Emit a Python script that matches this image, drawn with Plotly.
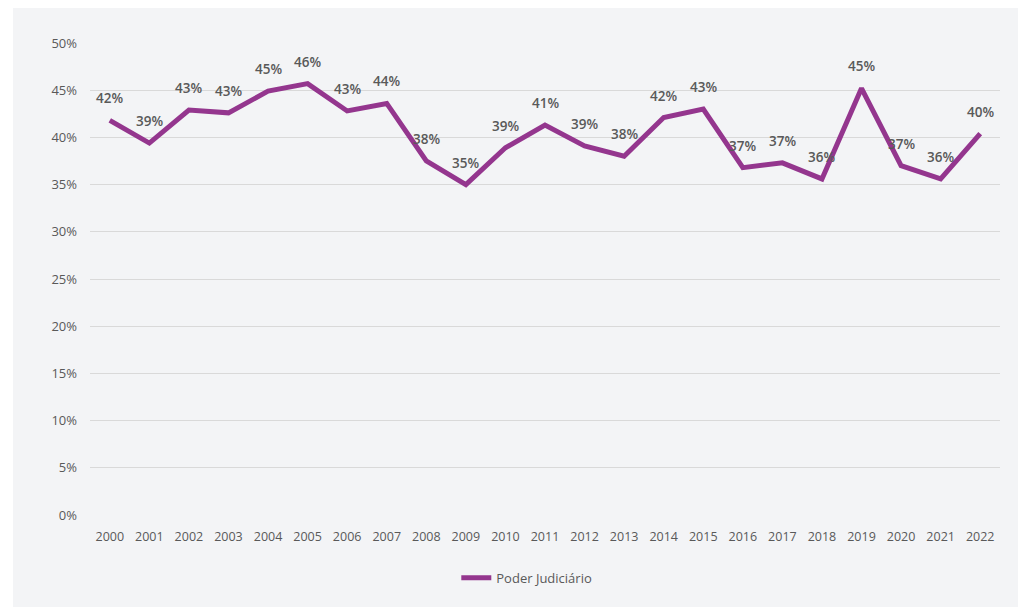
import plotly.graph_objects as go

years = [str(y) for y in range(2000, 2023)]
values = [0.418, 0.394, 0.429, 0.426, 0.449, 0.457, 0.428, 0.436, 0.375, 0.350,
          0.389, 0.413, 0.391, 0.380, 0.421, 0.430, 0.368, 0.373, 0.356, 0.452,
          0.370, 0.356, 0.404]
labels = [f"{round(v*100)}%" for v in values]
series_name = "Poder Judiciário"
y_ticks = [0, 0.05, 0.10, 0.15, 0.20, 0.25, 0.30, 0.35, 0.40, 0.45, 0.50]
y_ticktext = [f"{int(round(t*100))}%" for t in y_ticks]

fig = go.Figure()
fig.add_trace(go.Scatter(
    x=years, y=values, mode="lines", name=series_name,
    line=dict(color="#94368E", width=5),
    cliponaxis=False,
))
# category axis: annotation x given as the category index
for i, (yv, lab) in enumerate(zip(values, labels)):
    fig.add_annotation(x=i, y=yv, xref="x", yref="y", text=lab, showarrow=False, yshift=22,
                       font=dict(family="Open Sans", size=13.5, color="#595959", weight=600))

fig.update_layout(
    width=1018, height=607,
    margin=dict(l=90, r=18, t=43, b=92),
    paper_bgcolor="#F3F4F6", plot_bgcolor="#F3F4F6",
    font=dict(family="Open Sans", size=12, color="#595959"),
    showlegend=True,
    legend=dict(orientation="h", x=0.48, xanchor="center", y=-0.133, yanchor="middle",
                font=dict(size=13, color="#595959"), bgcolor="rgba(0,0,0,0)"),
    shapes=[
        dict(type="rect", xref="paper", yref="paper", x0=-0.2, x1=-90/910 + 13/910, y0=-0.3, y1=1.2,
             fillcolor="white", line=dict(width=0), layer="below"),
        dict(type="rect", xref="paper", yref="paper", x0=-0.2, x1=1.2, y0=1 + 35/472, y1=1.2,
             fillcolor="white", line=dict(width=0), layer="below"),
    ],
)
fig.update_xaxes(type="category", range=[-0.5, 22.5], showgrid=False, showline=False,
                 ticks="", ticklabelstandoff=12, tickfont=dict(size=12.5, color="#595959"))
fig.update_yaxes(range=[0, 0.5], tickvals=y_ticks, ticktext=y_ticktext,
                 showgrid=True, gridcolor="#D9D9D9", gridwidth=1, zeroline=False,
                 showline=False, ticks="", ticklabelstandoff=12,
                 tickfont=dict(size=13, color="#595959"))

fig.write_html("out.html")
